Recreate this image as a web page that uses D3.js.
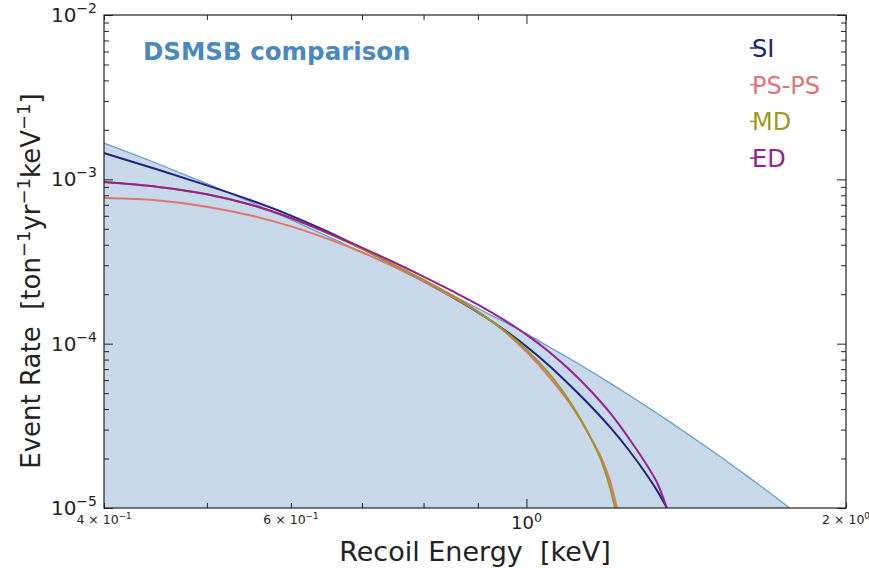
<!DOCTYPE html>
<html>
<head>
<meta charset="utf-8">
<script src="https://cdn.jsdelivr.net/npm/d3@7"></script>
<style>
  body { margin: 0; background: #fff; }
  svg text { font-family: "DejaVu Sans", sans-serif; white-space: pre; }
</style>
</head>
<body>
<div id="chart"></div>
<script>
var svgWidth = 869;
var svgHeight = 568;

var margin = { top: 15, right: 23, bottom: 60, left: 104 };
var width = svgWidth - margin.left - margin.right;
var height = svgHeight - margin.top - margin.bottom;

// background (shaded) curve
var bgEnergy = [0.4, 0.45, 0.5, 0.55, 0.6, 0.65, 0.7, 0.75, 0.8, 0.85, 0.9, 0.95, 1.0, 1.05, 1.1, 1.15, 1.2, 1.25, 1.3, 1.35, 1.4, 1.5, 1.6, 1.7, 1.77];
var bgRate = [1.66e-3, 1.24e-3, 9.42e-4, 7.28e-4, 5.69e-4, 4.5e-4, 3.61e-4, 2.93e-4, 2.39e-4, 1.98e-4, 1.64e-4, 1.37e-4, 1.15e-4, 9.57e-5, 8.07e-5, 6.79e-5, 5.73e-5, 4.85e-5, 4.12e-5, 3.51e-5, 2.99e-5, 2.2e-5, 1.63e-5, 1.22e-5, 1.0e-5];

// SI
var siEnergy = [0.4, 0.45, 0.5, 0.55, 0.6, 0.65, 0.7, 0.75, 0.8, 0.85, 0.9, 0.95, 1.0, 1.05, 1.1, 1.15, 1.2, 1.25, 1.3, 1.33, 1.356];
var siRate = [1.446e-3, 1.143e-3, 9.19e-4, 7.46e-4, 6.02e-4, 4.8e-4, 3.79e-4, 3.01e-4, 2.4e-4, 1.93e-4, 1.55e-4, 1.23e-4, 9.61e-5, 7.37e-5, 5.55e-5, 4.16e-5, 3.08e-5, 2.23e-5, 1.57e-5, 1.25e-5, 1.0e-5];

// PS-PS
var psEnergy = [0.4, 0.45, 0.5, 0.55, 0.6, 0.65, 0.7, 0.75, 0.8, 0.85, 0.9, 0.95, 1.0, 1.05, 1.1, 1.15, 1.18, 1.2, 1.217];
var psRate = [7.69e-4, 7.44e-4, 6.82e-4, 6.02e-4, 5.17e-4, 4.34e-4, 3.6e-4, 2.95e-4, 2.4e-4, 1.94e-4, 1.56e-4, 1.21e-4, 8.92e-5, 6.31e-5, 4.28e-5, 2.66e-5, 1.93e-5, 1.43e-5, 1.0e-5];

// MD
var mdEnergy = [0.4, 0.45, 0.5, 0.55, 0.6, 0.65, 0.7, 0.75, 0.8, 0.85, 0.9, 0.95, 1.0, 1.05, 1.1, 1.15, 1.18, 1.2, 1.212];
var mdRate = [9.63e-4, 8.99e-4, 8.12e-4, 7.01e-4, 5.82e-4, 4.69e-4, 3.76e-4, 3.03e-4, 2.45e-4, 1.98e-4, 1.57e-4, 1.22e-4, 9.19e-5, 6.59e-5, 4.39e-5, 2.66e-5, 1.84e-5, 1.3e-5, 1.0e-5];

// ED
var edEnergy = [0.4, 0.45, 0.5, 0.55, 0.6, 0.65, 0.7, 0.75, 0.8, 0.85, 0.9, 0.95, 1.0, 1.05, 1.1, 1.15, 1.2, 1.25, 1.3, 1.33, 1.356];
var edRate = [9.63e-4, 8.99e-4, 8.12e-4, 7.01e-4, 5.82e-4, 4.73e-4, 3.84e-4, 3.13e-4, 2.56e-4, 2.1e-4, 1.73e-4, 1.41e-4, 1.135e-4, 8.94e-5, 6.87e-5, 5.15e-5, 3.76e-5, 2.63e-5, 1.8e-5, 1.39e-5, 1.0e-5];

var seriesNames = ["SI", "PS-PS", "MD", "ED"];
var seriesColors = ["#22227e", "#e07474", "#9a9a22", "#962090"];

// tick values
var xMinorTicks = [0.4, 0.5, 0.6, 0.7, 0.8, 0.9, 2];
var xMajorTicks = [1];
var xTickLabels = [
  { v: 0.4, base: "4 \u00d7 10", exp: "\u22121", major: false },
  { v: 0.6, base: "6 \u00d7 10", exp: "\u22121", major: false },
  { v: 1, base: "10", exp: "0", major: true },
  { v: 2, base: "2 \u00d7 10", exp: "0", major: false }
];
var yMajorTicks = [1e-5, 1e-4, 1e-3, 1e-2];
var yExponents = ["\u22125", "\u22124", "\u22123", "\u22122"];

var svg = d3.select("#chart")
  .append("svg")
  .attr("width", svgWidth)
  .attr("height", svgHeight);

var chartGroup = svg.append("g")
  .attr("transform", `translate(${margin.left}, ${margin.top})`);

var xScale = d3.scaleLog().domain([0.4, 2]).range([0, width]);
var yScale = d3.scaleLog().domain([1e-5, 1e-2]).range([height, 0]);

var yMinorTicks = [];
yMajorTicks.slice(0, 3).forEach(function (d) {
  for (var k = 2; k <= 9; k++) yMinorTicks.push(d * k);
});

chartGroup.append("clipPath").attr("id", "clip")
  .append("rect").attr("width", width).attr("height", height);

var plot = chartGroup.append("g").attr("clip-path", "url(#clip)");

// shaded background
var bgData = bgEnergy.map((e, i) => ({ e: e, r: bgRate[i] }));
plot.append("path")
  .datum(bgData)
  .attr("fill", "steelblue")
  .attr("fill-opacity", 0.3)
  .attr("d", d3.area()
    .x(d => xScale(d.e))
    .y0(height)
    .y1(d => yScale(d.r))
    .curve(d3.curveMonotoneX));
plot.append("path")
  .datum(bgData)
  .attr("fill", "none")
  .attr("stroke", "#6a9cc8")
  .attr("stroke-width", 1.3)
  .attr("d", d3.line()
    .x(d => xScale(d.e))
    .y(d => yScale(d.r))
    .curve(d3.curveMonotoneX));

// model curves
var allSeries = [
  [siEnergy, siRate],
  [psEnergy, psRate],
  [mdEnergy, mdRate],
  [edEnergy, edRate]
];
var line = d3.line()
  .x(d => xScale(d.e))
  .y(d => yScale(d.r))
  .curve(d3.curveMonotoneX);

allSeries.forEach(function (s, i) {
  var data = s[0].map((e, j) => ({ e: e, r: s[1][j] }));
  plot.append("path")
    .datum(data)
    .attr("fill", "none")
    .attr("stroke", seriesColors[i])
    .attr("stroke-width", 2)
    .attr("d", line);
});

// axes with inward ticks
function addTicks(axisFn, scale, values, size, transform) {
  chartGroup.append("g")
    .attr("transform", transform)
    .call(axisFn(scale).tickValues(values).tickSize(-size).tickFormat(""))
    .call(g => g.select(".domain").remove())
    .selectAll("line").attr("stroke", "#222");
}
addTicks(d3.axisBottom, xScale, xMinorTicks, 5, `translate(0,${height})`);
addTicks(d3.axisBottom, xScale, xMajorTicks, 9, `translate(0,${height})`);
addTicks(d3.axisTop, xScale, xMinorTicks, 5, "translate(0,0)");
addTicks(d3.axisTop, xScale, xMajorTicks, 9, "translate(0,0)");
addTicks(d3.axisLeft, yScale, yMinorTicks, 5, "translate(0,0)");
addTicks(d3.axisLeft, yScale, yMajorTicks, 9, "translate(0,0)");
addTicks(d3.axisRight, yScale, yMinorTicks, 5, `translate(${width},0)`);
addTicks(d3.axisRight, yScale, yMajorTicks, 9, `translate(${width},0)`);

// frame
chartGroup.append("rect")
  .attr("width", width)
  .attr("height", height)
  .attr("fill", "none")
  .attr("stroke", "#222")
  .attr("stroke-width", 1.2);

// x tick labels
xTickLabels.forEach(function (t) {
  var fs = t.major ? 18 : 12.5;
  var txt = chartGroup.append("text")
    .attr("x", xScale(t.v))
    .attr("y", height + (t.major ? 21 : 16))
    .attr("text-anchor", "middle")
    .attr("font-size", fs)
    .attr("fill", "#222");
  txt.append("tspan").text(t.base);
  txt.append("tspan")
    .attr("dy", -fs * 0.4)
    .attr("font-size", fs * 0.7)
    .text(t.exp);
});

// y tick labels
yMajorTicks.forEach(function (v, i) {
  var txt = chartGroup.append("text")
    .attr("x", -7)
    .attr("y", yScale(v) + 7)
    .attr("text-anchor", "end")
    .attr("font-size", 20)
    .attr("fill", "#222");
  txt.append("tspan").text("10");
  txt.append("tspan")
    .attr("dy", -9)
    .attr("font-size", 14)
    .text(yExponents[i]);
});

// axis titles
svg.append("text")
  .attr("x", margin.left + width / 2)
  .attr("y", 561)
  .attr("text-anchor", "middle")
  .attr("font-size", 27)
  .attr("fill", "#222")
  .text("Recoil Energy  [keV]");

var yTitle = svg.append("text")
  .attr("transform", "translate(40, 281) rotate(-90)")
  .attr("text-anchor", "middle")
  .attr("font-size", 26)
  .attr("fill", "#222");
[["Event Rate  [ton", ""], ["\u22121", "sup"], ["yr", ""], ["\u22121", "sup"], ["keV", ""], ["\u22121", "sup"], ["]", ""]]
  .forEach(function (p, i) {
    var ts = yTitle.append("tspan").text(p[0]);
    if (p[1] === "sup") {
      ts.attr("font-size", 18).attr("dy", -10);
    } else if (i > 0) {
      ts.attr("dy", 10);
    }
  });

// title
svg.append("text")
  .attr("x", 143)
  .attr("y", 60)
  .attr("font-size", 24.5)
  .attr("font-weight", "bold")
  .attr("fill", "#4a88be")
  .text("DSMSB comparison");

// legend
seriesNames.forEach(function (name, i) {
  var yb = 57 + i * 36.7;
  svg.append("line")
    .attr("x1", 750).attr("x2", 757)
    .attr("y1", yb - 9).attr("y2", yb - 9)
    .attr("stroke", seriesColors[i])
    .attr("stroke-width", 1.5);
  svg.append("text")
    .attr("x", 752)
    .attr("y", yb)
    .attr("font-size", 24)
    .attr("fill", seriesColors[i])
    .text(name);
});
</script>
</body>
</html>
